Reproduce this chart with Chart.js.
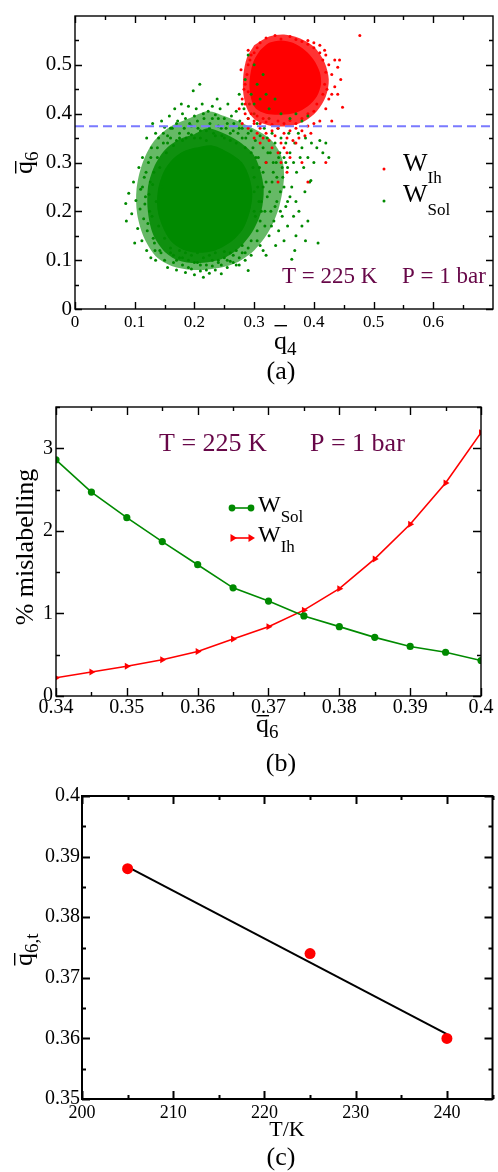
<!DOCTYPE html>
<html>
<head>
<meta charset="utf-8">
<script src="https://cdn.jsdelivr.net/npm/chart.js@4.4.1/dist/chart.umd.min.js"></script>
<style>
  body { margin: 0; background: #fff; }
  canvas { position: absolute; left: 0; }
</style>
</head>
<body>
<canvas id="cA" width="498" height="392" style="top:0"></canvas>
<canvas id="cB" width="498" height="390" style="top:392px"></canvas>
<canvas id="cC" width="498" height="390" style="top:782px"></canvas>
<script>
// ---------- panel (a): q4 / q6 scatter ----------
const aXTicks = [0, 0.1, 0.2, 0.3, 0.4, 0.5, 0.6];
const aXLabels = ['0', '0.1', '0.2', '0.3', '0.4', '0.5', '0.6'];
const aYTicks = [0, 0.1, 0.2, 0.3, 0.4, 0.5];
const aYLabels = ['0', '0.1', '0.2', '0.3', '0.4', '0.5'];
const aXMinor = [0.05, 0.15, 0.25, 0.35, 0.45, 0.55, 0.65];
const aYMinor = [0.05, 0.15, 0.25, 0.35, 0.45, 0.55];
const q6Cutoff = 0.374;

// dense parts of the clouds (outlines)
const solCore = [[0.2,0.33],[0.23,0.335],[0.258,0.32],[0.28,0.3],[0.292,0.27],[0.297,0.235],[0.293,0.2],[0.282,0.165],[0.262,0.138],[0.235,0.12],[0.205,0.115],[0.18,0.122],[0.16,0.14],[0.146,0.17],[0.138,0.205],[0.139,0.245],[0.148,0.28],[0.162,0.305],[0.18,0.322],[0.2,0.33]];
const solHalo = [[0.2,0.358],[0.222,0.37],[0.245,0.362],[0.272,0.345],[0.298,0.318],[0.31,0.285],[0.316,0.245],[0.312,0.2],[0.298,0.16],[0.275,0.125],[0.245,0.102],[0.205,0.094],[0.172,0.1],[0.148,0.12],[0.13,0.155],[0.122,0.2],[0.122,0.248],[0.132,0.29],[0.15,0.325],[0.175,0.348],[0.2,0.358]];
const solOuter = [[0.19,0.39],[0.222,0.405],[0.25,0.395],[0.29,0.375],[0.325,0.35],[0.345,0.315],[0.35,0.27],[0.342,0.21],[0.325,0.16],[0.3,0.12],[0.265,0.092],[0.215,0.08],[0.17,0.085],[0.138,0.105],[0.116,0.145],[0.104,0.195],[0.103,0.245],[0.112,0.295],[0.13,0.34],[0.158,0.372],[0.19,0.39]];
const ihCore = [[0.31,0.53],[0.325,0.545],[0.345,0.55],[0.365,0.545],[0.385,0.53],[0.4,0.51],[0.41,0.485],[0.412,0.46],[0.405,0.435],[0.39,0.415],[0.37,0.402],[0.345,0.398],[0.32,0.4],[0.303,0.41],[0.295,0.43],[0.292,0.46],[0.295,0.49],[0.3,0.51],[0.31,0.53]];
const ihHalo = [[0.3,0.54],[0.325,0.558],[0.35,0.562],[0.375,0.555],[0.4,0.537],[0.418,0.505],[0.425,0.47],[0.42,0.435],[0.405,0.405],[0.385,0.385],[0.36,0.375],[0.33,0.375],[0.305,0.385],[0.29,0.405],[0.282,0.44],[0.282,0.48],[0.288,0.515],[0.3,0.54]];

// scattered points around the clouds
const solDots = [
 [0.085,0.216],[0.086,0.18],[0.09,0.237],[0.095,0.195],[0.098,0.26],[0.1,0.135],[0.102,0.222],[0.105,0.165],[0.107,0.29],[0.109,0.205],
 [0.11,0.245],[0.112,0.14],[0.113,0.31],[0.115,0.185],[0.116,0.27],[0.118,0.23],[0.12,0.12],[0.12,0.35],[0.121,0.16],[0.123,0.3],
 [0.125,0.2],[0.126,0.26],[0.127,0.105],[0.128,0.33],[0.13,0.38],[0.131,0.145],[0.132,0.28],[0.134,0.12],[0.135,0.36],[0.138,0.31],
 [0.14,0.35],[0.145,0.385],[0.148,0.34],[0.15,0.372],[0.155,0.355],[0.158,0.395],[0.16,0.35],[0.163,0.37],[0.167,0.41],[0.17,0.345],
 [0.172,0.385],[0.175,0.36],[0.178,0.42],[0.18,0.4],[0.183,0.37],[0.186,0.35],[0.19,0.415],[0.192,0.38],[0.195,0.357],[0.198,0.447],
 [0.2,0.395],[0.203,0.41],[0.206,0.37],[0.209,0.46],[0.21,0.35],[0.213,0.42],[0.216,0.39],[0.22,0.365],[0.223,0.405],[0.226,0.38],
 [0.23,0.415],[0.232,0.36],[0.235,0.398],[0.238,0.43],[0.24,0.375],[0.243,0.41],[0.246,0.355],[0.25,0.39],[0.253,0.37],[0.256,0.42],
 [0.26,0.36],[0.262,0.395],[0.266,0.38],[0.27,0.405],[0.273,0.36],[0.276,0.385],[0.28,0.37],[0.283,0.41],[0.286,0.35],[0.29,0.39],
 [0.292,0.42],[0.295,0.365],[0.298,0.33],[0.3,0.4],[0.302,0.345],[0.305,0.38],[0.307,0.31],[0.31,0.355],[0.312,0.42],[0.315,0.33],
 [0.317,0.37],[0.32,0.3],[0.322,0.35],[0.325,0.39],[0.327,0.32],[0.33,0.36],[0.332,0.28],[0.335,0.34],[0.337,0.3],[0.34,0.37],
 [0.343,0.32],[0.345,0.35],[0.348,0.27],[0.35,0.31],[0.353,0.34],[0.356,0.29],[0.358,0.36],[0.36,0.32],[0.363,0.25],[0.366,0.3],
 [0.368,0.34],[0.371,0.28],[0.374,0.36],[0.377,0.31],[0.38,0.33],[0.383,0.29],[0.386,0.35],[0.39,0.31],[0.393,0.26],[0.396,0.34],
 [0.4,0.3],[0.405,0.33],[0.41,0.345],[0.415,0.32],[0.42,0.34],[0.425,0.31],[0.395,0.263],[0.385,0.24],[0.37,0.22],
 [0.3,0.24],[0.302,0.19],[0.305,0.16],[0.308,0.22],[0.31,0.13],[0.312,0.2],[0.315,0.25],[0.318,0.17],[0.32,0.11],[0.322,0.23],
 [0.325,0.15],[0.328,0.2],[0.33,0.26],[0.333,0.18],[0.336,0.13],[0.338,0.22],[0.341,0.16],[0.344,0.24],[0.347,0.19],[0.35,0.14],
 [0.353,0.21],[0.356,0.17],[0.36,0.23],[0.363,0.102],[0.366,0.19],[0.37,0.15],[0.375,0.2],[0.38,0.17],[0.386,0.14],[0.407,0.135],
 [0.39,0.18],[0.368,0.12],
 [0.15,0.1],[0.155,0.085],[0.16,0.115],[0.165,0.095],[0.17,0.08],[0.175,0.105],[0.18,0.09],[0.185,0.075],[0.19,0.1],[0.195,0.082],
 [0.2,0.07],[0.205,0.095],[0.21,0.078],[0.215,0.065],[0.22,0.09],[0.225,0.073],[0.23,0.1],[0.235,0.08],[0.24,0.095],[0.245,0.072],
 [0.25,0.105],[0.255,0.085],[0.26,0.098],[0.265,0.11],[0.27,0.09],[0.275,0.105],[0.28,0.115],[0.29,0.079],[0.285,0.1],[0.142,0.12],
 [0.135,0.1],[0.295,0.11],
 [0.113,0.25],[0.117,0.215],[0.119,0.28],[0.122,0.175],[0.124,0.235],[0.127,0.31],[0.129,0.19],[0.13,0.255],[0.133,0.135],[0.136,0.22],
 [0.138,0.33],[0.14,0.17],[0.142,0.29],[0.144,0.115],[0.146,0.25],[0.148,0.36],[0.15,0.145],[0.153,0.32],
 [0.155,0.34],[0.16,0.37],[0.165,0.335],[0.17,0.38],[0.175,0.35],[0.18,0.345],[0.185,0.39],[0.19,0.36],[0.195,0.375],[0.2,0.35],
 [0.205,0.385],[0.21,0.365],[0.215,0.4],[0.22,0.345],[0.225,0.37],[0.23,0.39],[0.235,0.355],[0.24,0.39],[0.245,0.37],[0.25,0.35],
 [0.255,0.38],[0.26,0.345],[0.265,0.365],[0.27,0.34],[0.275,0.37],[0.28,0.35],[0.285,0.33],[0.29,0.36],
 [0.295,0.32],[0.298,0.29],[0.3,0.27],[0.303,0.31],[0.306,0.25],[0.309,0.29],[0.312,0.22],[0.315,0.28],[0.318,0.2],[0.32,0.26],
 [0.323,0.32],[0.326,0.24],[0.329,0.17],[0.332,0.3],[0.335,0.21],[0.338,0.27],[0.341,0.31],[0.344,0.2],[0.347,0.29],[0.35,0.25],
 [0.353,0.3],[0.356,0.22],[0.3,0.2],[0.305,0.14],[0.31,0.18],[0.315,0.12],
 [0.16,0.125],[0.165,0.11],[0.17,0.1],[0.175,0.12],[0.18,0.105],[0.185,0.115],[0.19,0.085],[0.195,0.11],[0.2,0.095],[0.205,0.115],
 [0.21,0.09],[0.215,0.105],[0.22,0.08],[0.225,0.11],[0.23,0.088],[0.235,0.115],[0.24,0.1],[0.245,0.09],[0.25,0.118],[0.255,0.1],
 [0.26,0.115],[0.265,0.095],[0.27,0.12],[0.275,0.09],[0.28,0.13],[0.285,0.115],[0.29,0.125],[0.295,0.14]
];
const solDotsTop = [
 [0.29,0.52],[0.285,0.47],[0.295,0.44],[0.3,0.5],[0.305,0.46],[0.31,0.43],[0.315,0.48],[0.32,0.44],[0.3,0.42],[0.325,0.41],
 [0.335,0.43],[0.345,0.4],[0.36,0.39],[0.37,0.4],[0.38,0.385],[0.39,0.395],[0.275,0.44],[0.28,0.42]
];
const ihDots = [
 [0.42,0.52],[0.425,0.5],[0.43,0.48],[0.435,0.51],[0.44,0.495],[0.443,0.51],[0.445,0.47],[0.448,0.413],[0.43,0.44],[0.435,0.455],
 [0.425,0.43],[0.42,0.41],[0.44,0.44],[0.43,0.385],[0.422,0.45],[0.418,0.53],[0.41,0.54],[0.4,0.545],[0.39,0.55],
 [0.32,0.555],[0.335,0.56],[0.36,0.558],[0.37,0.552],[0.345,0.553],[0.477,0.56],
 [0.28,0.43],[0.285,0.46],[0.278,0.49],[0.29,0.5],[0.283,0.45],[0.275,0.41],[0.285,0.4],[0.29,0.39],[0.295,0.52],[0.29,0.53],
 [0.3,0.38],[0.31,0.37],[0.32,0.36],[0.33,0.365],[0.34,0.37],[0.35,0.36],[0.36,0.365],[0.37,0.37],[0.38,0.365],[0.39,0.375],
 [0.4,0.38],[0.41,0.385],[0.305,0.36],[0.315,0.35],[0.325,0.345],[0.335,0.355],[0.345,0.34],[0.355,0.35],[0.365,0.345],[0.375,0.35],
 [0.385,0.355],[0.395,0.36],[0.33,0.33],[0.34,0.32],[0.35,0.33],[0.36,0.31],[0.37,0.34],[0.345,0.3],[0.355,0.28],[0.34,0.26],
 [0.32,0.3],[0.31,0.34],[0.3,0.35],[0.39,0.26],[0.42,0.3],[0.38,0.3],[0.29,0.37],[0.28,0.38],[0.355,0.32],
 [0.285,0.42],[0.288,0.48],[0.29,0.445],[0.293,0.51],[0.295,0.4],[0.3,0.385],[0.305,0.395],[0.31,0.38],[0.315,0.39],[0.32,0.383],
 [0.33,0.378],[0.34,0.385],[0.35,0.38],[0.36,0.386],[0.37,0.38],[0.38,0.39],[0.39,0.4],[0.4,0.405],[0.405,0.42],[0.415,0.44],
 [0.418,0.46],[0.42,0.485],[0.415,0.51],[0.41,0.525],[0.4,0.535],[0.39,0.542],[0.38,0.548],[0.305,0.535],[0.31,0.545],[0.3,0.525]
];

// ---------- panel (b): mislabelling vs cutoff ----------
const q6Cut = [0.34, 0.345, 0.35, 0.355, 0.36, 0.365, 0.37, 0.375, 0.38, 0.385, 0.39, 0.395, 0.40];
const misSol = [2.86, 2.47, 2.16, 1.87, 1.59, 1.31, 1.15, 0.97, 0.84, 0.71, 0.60, 0.53, 0.43];
const misIh = [0.22, 0.29, 0.36, 0.44, 0.54, 0.69, 0.84, 1.04, 1.30, 1.66, 2.08, 2.58, 3.19];
const bXTicks = [0.34, 0.35, 0.36, 0.37, 0.38, 0.39, 0.40];
const bXLabels = ['0.34', '0.35', '0.36', '0.37', '0.38', '0.39', '0.4'];
const bYTicks = [0, 1, 2, 3];
const bYLabels = ['0', '1', '2', '3'];
const bXMinor = [0.345, 0.355, 0.365, 0.375, 0.385, 0.395];
const bYMinor = [0.5, 1.5, 2.5, 3.5];

// ---------- panel (c): threshold vs temperature ----------
const tempK = [205, 225, 240];
const q6t = [0.388, 0.374, 0.360];
const fitT = [205, 240];
const fitQ = [0.3883, 0.3607];
const cXTicks = [200, 210, 220, 230, 240];
const cXLabels = ['200', '210', '220', '230', '240'];
const cYTicks = [0.35, 0.36, 0.37, 0.38, 0.39, 0.40];
const cYLabels = ['0.35', '0.36', '0.37', '0.38', '0.39', '0.4'];
const cXMinor = [205, 215, 225, 235, 245];
const cYMinor = [0.355, 0.365, 0.375, 0.385, 0.395];

const SERIF = '"Liberation Serif", "DejaVu Serif", serif';
const GREEN = '#008a00';
const RED = '#ff0000';
const PURPLE = '#670748';

const pts = a => a.map(p => ({ x: p[0], y: p[1] }));
const zip = (xs, ys) => xs.map((x, i) => ({ x: x, y: ys[i] }));

function frame(cfg) {
  return {
    id: 'frame',
    afterDatasetsDraw(chart) {
      const { ctx, chartArea: a, scales: { x, y } } = chart;
      ctx.save();
      ctx.strokeStyle = '#000';
      ctx.lineWidth = cfg.lw;
      ctx.beginPath();
      const tx = (vals, len) => vals.forEach(v => {
        const p = Math.round(x.getPixelForValue(v)) + 0.5;
        ctx.moveTo(p, a.bottom); ctx.lineTo(p, a.bottom - len);
        ctx.moveTo(p, a.top); ctx.lineTo(p, a.top + len);
      });
      const ty = (vals, len) => vals.forEach(v => {
        const p = Math.round(y.getPixelForValue(v)) + 0.5;
        ctx.moveTo(a.left, p); ctx.lineTo(a.left + len, p);
        ctx.moveTo(a.right, p); ctx.lineTo(a.right - len, p);
      });
      tx(cfg.xMaj, cfg.maj); tx(cfg.xMin, cfg.min);
      ty(cfg.yMaj, cfg.maj); ty(cfg.yMin, cfg.min);
      ctx.stroke();
      ctx.strokeRect(a.left, a.top, a.right - a.left, a.bottom - a.top);
      ctx.restore();
    }
  };
}

function scale(min, max, ticks, labels, size, pad, fit) {
  return {
    type: 'linear', min: min, max: max,
    grid: { display: false, drawTicks: false }, border: { display: false },
    afterBuildTicks: s => { s.ticks = ticks.map(v => ({ value: v })); },
    afterFit: fit,
    ticks: {
      font: { family: SERIF, size: size }, color: '#000', padding: pad,
      autoSkip: false, maxRotation: 0,
      callback: (v, i) => labels[i]
    }
  };
}

// q with overline and subscript; (x, y) = start of baseline
function qbar(ctx, x, y, sub, ov, rot) {
  ctx.save();
  ctx.translate(x, y);
  if (rot) ctx.rotate(-Math.PI / 2);
  ctx.fillStyle = '#000';
  ctx.textAlign = 'left';
  ctx.textBaseline = 'alphabetic';
  ctx.font = '26px ' + SERIF;
  const w = ctx.measureText('q').width;
  ctx.fillText('q', 0, 0);
  ctx.fillRect(0.5, -ov, w - 0.5, 1.4);
  ctx.font = '19px ' + SERIF;
  ctx.fillText(sub, w, 6);
  ctx.restore();
}

function wsub(ctx, x, y, sub, size, subSize, dy) {
  ctx.fillStyle = '#000';
  ctx.textAlign = 'left';
  ctx.font = size + 'px ' + SERIF;
  ctx.fillText('W', x, y);
  const w = ctx.measureText('W').width;
  ctx.font = subSize + 'px ' + SERIF;
  ctx.fillText(sub, x + w, y + dy);
}

function txt(ctx, s, x, y, size, align, color) {
  ctx.fillStyle = color || '#000';
  ctx.textAlign = align || 'left';
  ctx.font = size + 'px ' + SERIF;
  ctx.fillText(s, x, y);
}

const base = {
  responsive: false, animation: false, devicePixelRatio: 1,
  plugins: { legend: { display: false }, tooltip: { enabled: false } }
};

// ---- chart (a)
new Chart(document.getElementById('cA'), {
  type: 'scatter',
  data: {
    datasets: [
      { type: 'line', data: pts(solOuter), fill: 'shape', backgroundColor: 'rgba(0,138,0,0.6)', borderColor: 'rgba(0,0,0,0)', pointRadius: 0, tension: 0.3, order: 9 },
      { type: 'line', data: pts(solHalo), fill: 'shape', backgroundColor: 'rgba(0,138,0,0.85)', borderColor: 'rgba(0,0,0,0)', pointRadius: 0, tension: 0.3, order: 8 },
      { type: 'line', data: pts(solCore), fill: 'shape', backgroundColor: GREEN, borderColor: 'rgba(0,0,0,0)', pointRadius: 0, tension: 0.3, order: 7 },
      { data: pts(solDots), backgroundColor: GREEN, borderWidth: 0, pointRadius: 1.5, order: 6 },
      { type: 'line', data: pts(ihHalo), fill: 'shape', backgroundColor: 'rgba(255,0,0,0.8)', borderColor: 'rgba(0,0,0,0)', pointRadius: 0, tension: 0.3, order: 5 },
      { type: 'line', data: pts(ihCore), fill: 'shape', backgroundColor: RED, borderColor: 'rgba(0,0,0,0)', pointRadius: 0, tension: 0.3, order: 4 },
      { data: pts(ihDots), backgroundColor: RED, borderWidth: 0, pointRadius: 1.5, order: 3 },
      { type: 'line', data: [{ x: 0, y: q6Cutoff }, { x: 0.7, y: q6Cutoff }], borderColor: '#7a7aff', borderWidth: 2, borderDash: [9, 5], pointRadius: 0, fill: false, order: 2 },
      { data: pts(solDotsTop), backgroundColor: GREEN, borderWidth: 0, pointRadius: 1.5, order: 1 }
    ]
  },
  options: Object.assign({}, base, {
    layout: { padding: { left: 0, right: 5, top: 16, bottom: 0 } },
    scales: {
      x: scale(0, 0.7, aXTicks, aXLabels, 17, 3, s => { s.height = 83; }),
      y: scale(0, 0.6, aYTicks, aYLabels, 21, 3, s => { s.width = 75; })
    }
  }),
  plugins: [frame({ lw: 1.4, maj: 7, min: 4, xMaj: aXTicks, xMin: aXMinor, yMaj: aYTicks, yMin: aYMinor }), {
    id: 'textA',
    afterDraw(chart) {
      const ctx = chart.ctx;
      ctx.save();
      qbar(ctx, 32, 174, '6', 17, true);
      qbar(ctx, 274, 349, '4', 24, false);
      txt(ctx, '(a)', 281, 379, 26, 'center');
      ctx.fillStyle = RED;
      ctx.beginPath(); ctx.arc(384, 169, 1.5, 0, Math.PI * 2); ctx.fill();
      ctx.fillStyle = GREEN;
      ctx.beginPath(); ctx.arc(384, 201, 1.5, 0, Math.PI * 2); ctx.fill();
      wsub(ctx, 403, 171, 'Ih', 26, 17, 12);
      wsub(ctx, 403, 202, 'Sol', 26, 17, 13);
      txt(ctx, 'T = 225 K', 282, 283, 23, 'left', PURPLE);
      txt(ctx, 'P = 1 bar', 402, 283, 23, 'left', PURPLE);
      ctx.restore();
    }
  }]
});

// ---- chart (b)
new Chart(document.getElementById('cB'), {
  type: 'scatter',
  data: {
    datasets: [
      { type: 'line', data: zip(q6Cut, misSol), borderColor: GREEN, backgroundColor: GREEN, borderWidth: 1.6, pointRadius: 3.6, pointBorderWidth: 0, fill: false, tension: 0 },
      { type: 'line', data: zip(q6Cut, misIh), borderColor: RED, backgroundColor: RED, borderWidth: 1.6, pointStyle: 'triangle', rotation: 90, pointRadius: 4, pointBorderWidth: 0, fill: false, tension: 0 }
    ]
  },
  options: Object.assign({}, base, {
    layout: { padding: { left: 0, right: 17, top: 7, bottom: 0 } },
    scales: {
      x: scale(0.34, 0.40, bXTicks, bXLabels, 20, 0, s => { s.height = 86; }),
      y: scale(0, 3.5, bYTicks, bYLabels, 20, 3, s => { s.width = 56; })
    }
  }),
  plugins: [frame({ lw: 1.4, maj: 8, min: 4, xMaj: bXTicks, xMin: bXMinor, yMaj: bYTicks, yMin: bYMinor }), {
    id: 'textB',
    afterDraw(chart) {
      const ctx = chart.ctx;
      ctx.save();
      ctx.translate(0, -392);
      qbar(ctx, 256, 732, '6', 17, false);
      txt(ctx, '(b)', 281, 771, 26, 'center');
      ctx.save();
      ctx.translate(33, 547);
      ctx.rotate(-Math.PI / 2);
      txt(ctx, '% mislabelling', 0, 0, 26, 'center');
      ctx.restore();
      txt(ctx, 'T = 225 K', 159, 451, 26, 'left', PURPLE);
      txt(ctx, 'P = 1 bar', 310, 451, 26, 'left', PURPLE);
      // legend
      ctx.lineWidth = 1.6;
      ctx.strokeStyle = GREEN; ctx.fillStyle = GREEN;
      ctx.beginPath(); ctx.moveTo(232, 508); ctx.lineTo(251, 508); ctx.stroke();
      [232, 251].forEach(px => { ctx.beginPath(); ctx.arc(px, 508, 3.4, 0, Math.PI * 2); ctx.fill(); });
      ctx.strokeStyle = RED; ctx.fillStyle = RED;
      ctx.beginPath(); ctx.moveTo(232, 538); ctx.lineTo(252, 538); ctx.stroke();
      [233, 251].forEach(px => {
        ctx.beginPath(); ctx.moveTo(px + 4, 538); ctx.lineTo(px - 2.5, 534); ctx.lineTo(px - 2.5, 542); ctx.closePath(); ctx.fill();
      });
      wsub(ctx, 258, 512, 'Sol', 24, 17, 10);
      wsub(ctx, 258, 542, 'Ih', 24, 17, 10);
      ctx.restore();
    }
  }]
});

// ---- chart (c)
new Chart(document.getElementById('cC'), {
  type: 'scatter',
  data: {
    datasets: [
      { data: zip(tempK, q6t), backgroundColor: RED, borderWidth: 0, pointRadius: 5.5, order: 1 },
      { type: 'line', data: zip(fitT, fitQ), borderColor: '#000', borderWidth: 2, pointRadius: 0, fill: false, order: 2 }
    ]
  },
  options: Object.assign({}, base, {
    layout: { padding: { left: 0, right: 5, top: 12, bottom: 0 } },
    scales: {
      x: scale(200, 245, cXTicks, cXLabels, 18, 3, s => { s.height = 73; }),
      y: scale(0.35, 0.40, cYTicks, cYLabels, 20, 2, s => { s.width = 82; })
    }
  }),
  plugins: [frame({ lw: 2, maj: 8, min: 4, xMaj: cXTicks, xMin: cXMinor, yMaj: cYTicks, yMin: cYMinor }), {
    id: 'textC',
    afterDraw(chart) {
      const ctx = chart.ctx;
      ctx.save();
      ctx.translate(0, -782);
      qbar(ctx, 32, 966, '6,t', 18, true);
      txt(ctx, 'T/K', 287, 1136, 22, 'center');
      txt(ctx, '(c)', 281, 1165, 26, 'center');
      ctx.restore();
    }
  }]
});
</script>
</body>
</html>
